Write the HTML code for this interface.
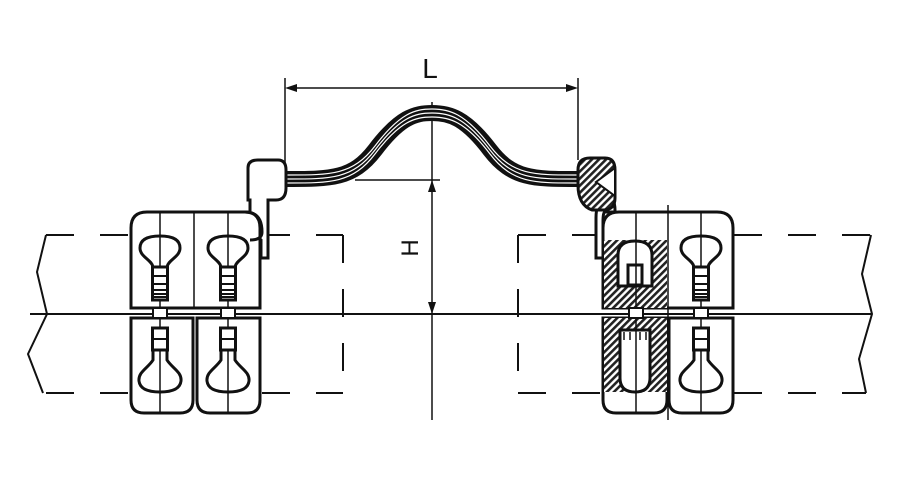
<!DOCTYPE html>
<html><head><meta charset="utf-8"><style>body{margin:0;background:#fff}svg{display:block}</style></head><body>
<svg width="905" height="489" viewBox="0 0 905 489" xmlns="http://www.w3.org/2000/svg">
<defs>
<pattern id="h" width="5" height="5" patternUnits="userSpaceOnUse" patternTransform="rotate(45)">
<rect width="5" height="5" fill="#fff"/><rect width="2.6" height="5" fill="#222"/></pattern>
<g id="bu">
<path d="M-7,267 C-8,260 -20,257 -20,248 C-20,238 -10,236 0,236 C10,236 20,238 20,248 C20,257 8,260 7,267 Z" fill="none" stroke="#111" stroke-width="3"/>
<rect x="-7.5" y="267" width="15" height="33" fill="#fff" stroke="#111" stroke-width="3"/>
<line x1="-7" y1="276" x2="7" y2="276" stroke="#111" stroke-width="2"/>
<line x1="-7" y1="284" x2="7" y2="284" stroke="#111" stroke-width="2"/>
<line x1="-7" y1="290" x2="7" y2="290" stroke="#111" stroke-width="2"/>
<line x1="-7" y1="294" x2="7" y2="294" stroke="#111" stroke-width="2"/>
<line x1="-7" y1="297" x2="7" y2="297" stroke="#111" stroke-width="2"/>
</g>
<g id="bl">
<rect x="-7.5" y="328" width="15" height="22" fill="#fff" stroke="#111" stroke-width="3"/>
<line x1="-7" y1="339" x2="7" y2="339" stroke="#111" stroke-width="2"/>
<path d="M-7,350 L-7,360 C-12,368 -22,372 -21,381 C-20,390 -10,392 0,392 C10,392 20,390 21,381 C22,372 12,368 7,360 L7,350" fill="none" stroke="#111" stroke-width="3"/>
</g>
</defs>
<g stroke="#111" fill="none" stroke-width="2">
<path d="M46,235H343M46,393H343M343,235V393M518,235H870M518,393H866M518,235V393" stroke-dasharray="28,26"/>
<path d="M46,235L37,272L47,314L28,354L43,393"/>
<path d="M871,235L862,274L872,314L859,359L866,393"/>
<line x1="30" y1="314" x2="872" y2="314"/>
</g>
<g stroke="#111" stroke-width="1.5" fill="none">
<line x1="432" y1="102" x2="432" y2="420"/>
<line x1="285" y1="78" x2="285" y2="172"/>
<line x1="578" y1="78" x2="578" y2="160"/>
<line x1="290" y1="88" x2="573" y2="88"/>
<line x1="355" y1="180" x2="440" y2="180"/>
</g>
<path d="M285,88l12,-4v8zM578,88l-12,-4v8zM432,180l-4,12h8zM432,314l-4,-12h8z" fill="#111"/>
<text x="430" y="78" font-family="Liberation Sans,sans-serif" font-size="28" text-anchor="middle" fill="#111">L</text>
<text transform="translate(418,248) rotate(-90)" font-family="Liberation Sans,sans-serif" font-size="24" text-anchor="middle" fill="#111">H</text>
<path d="M282,179 C330,179 352,180 375,150 C400,117 415,113 432,113 C449,113 465,117 490,150 C513,180 535,179 580,179" fill="none" stroke="#111" stroke-width="16"/>
<g stroke="#fff" stroke-width="1.2" fill="none">
<path d="M282,175 C330,175 352,176 375,146 C400,113 415,109 432,109 C449,109 465,113 490,146 C513,176 535,175 580,175"/>
<path d="M282,179 C330,179 352,180 375,150 C400,117 415,113 432,113 C449,113 465,117 490,150 C513,180 535,179 580,179"/>
<path d="M282,183 C330,183 352,184 375,154 C400,121 415,117 432,117 C449,117 465,121 490,154 C513,184 535,183 580,183"/>
</g>
<g stroke="#111" stroke-width="3" fill="#fff">
<path d="M258,160 H278 Q286,160 286,170 V188 Q286,200 276,200 H268 V258 H261 V240 Q250,232 250,222 V200 H248 V168 Q248,160 258,160 Z"/>
<path d="M131,308 V228 Q131,212 147,212 H245 Q260,212 260,228 V308 Z"/>
<path d="M131,318 H193 V400 Q193,413 180,413 H144 Q131,413 131,400 Z"/>
<path d="M197,318 H260 V400 Q260,413 247,413 H210 Q197,413 197,400 Z"/>
<path d="M245,212 Q262,212 262,232 Q262,240 250,240" fill="none"/>
<path d="M607,195 Q615,198 615,210 V212 H605 Q603,212 603,222 V258 H596 V218 Q596,210 598,205" fill="#fff"/>
<path d="M590,158 H605 Q615,158 615,170 V198 Q615,210 603,210 H592 Q578,205 578,185 V170 Q578,158 590,158 Z" fill="url(#h)"/>
<path d="M615,168 L596,182 L615,196 Z" fill="#fff" stroke-width="2"/>
<path d="M603,308 V228 Q603,212 619,212 H717 Q733,212 733,228 V308 Z"/>
<path d="M603,318 H667 V400 Q667,413 654,413 H616 Q603,413 603,400 Z"/>
<path d="M669,318 H733 V400 Q733,413 720,413 H682 Q669,413 669,400 Z"/>
<rect x="604" y="240" width="63" height="68" fill="url(#h)" stroke="none"/>
<rect x="604" y="318" width="63" height="74" fill="url(#h)" stroke="none"/>
<path d="M618,286 V255 Q618,241 635,241 Q652,241 652,255 V286 Z"/>
<path d="M620,330 H650 V378 Q650,392 635,392 Q620,392 620,378 Z"/>
<rect x="628" y="265" width="14" height="20"/>
</g>
<g stroke="#111" stroke-width="1.5">
<line x1="160" y1="212" x2="160" y2="413"/><line x1="228" y1="212" x2="228" y2="413"/>
<line x1="194" y1="212" x2="194" y2="308"/>
<line x1="636" y1="212" x2="636" y2="413"/><line x1="701" y1="212" x2="701" y2="413"/>
<line x1="668" y1="205" x2="668" y2="420"/>
<line x1="624" y1="332" x2="624" y2="340"/><line x1="630" y1="332" x2="630" y2="340"/><line x1="640" y1="332" x2="640" y2="340"/><line x1="646" y1="332" x2="646" y2="340"/>
</g>
<g stroke="#111" stroke-width="2" fill="#fff">
<rect x="153" y="308" width="14" height="10"/><rect x="221" y="308" width="14" height="10"/>
<rect x="629" y="308" width="14" height="10"/><rect x="694" y="308" width="14" height="10"/>
</g>
<use href="#bu" x="160"/><use href="#bu" x="228"/><use href="#bu" x="701"/>
<use href="#bl" x="160"/><use href="#bl" x="228"/><use href="#bl" x="701"/>
</svg>
</body></html>
